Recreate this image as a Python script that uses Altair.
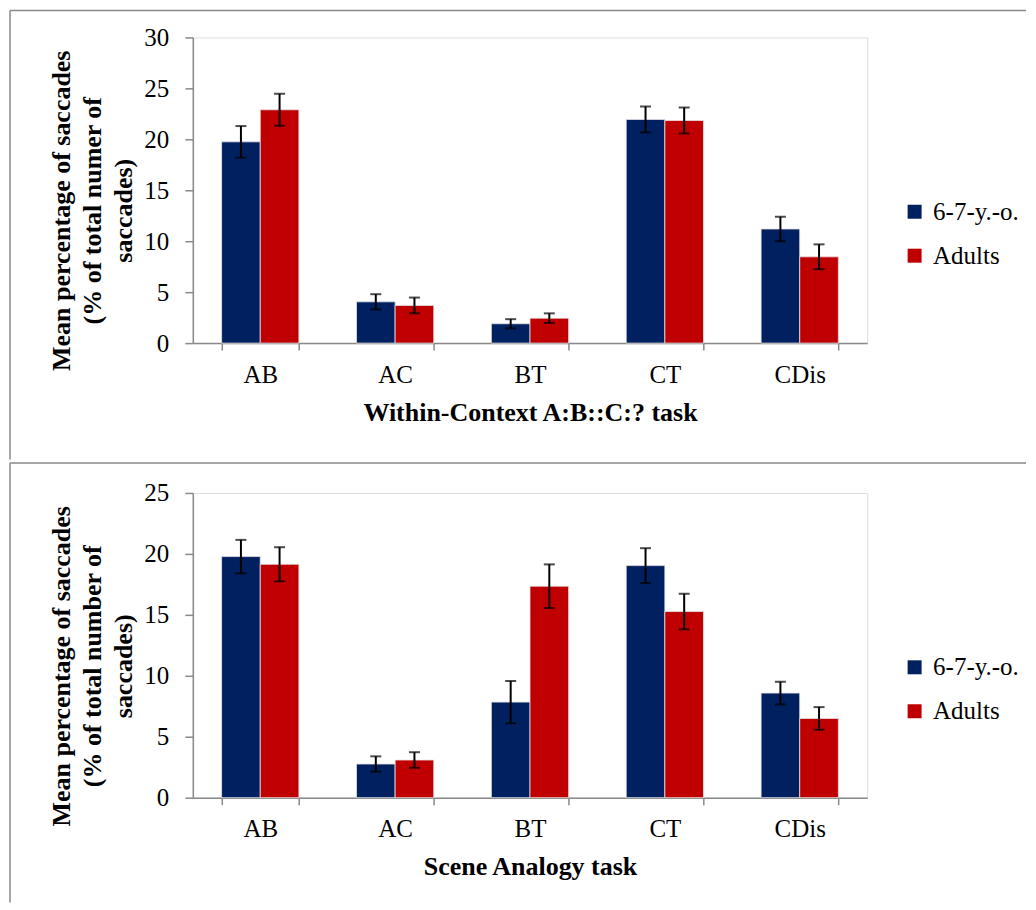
import altair as alt
import pandas as pd

categories = ["AB", "AC", "BT", "CT", "CDis"]
groups = ["6-7-y.-o.", "Adults"]

# Within-Context A:B::C:? task
within_child = [19.75, 4.05, 1.90, 21.95, 11.20]
within_child_err = [1.55, 0.75, 0.45, 1.27, 1.20]
within_adult = [22.90, 3.70, 2.45, 21.85, 8.47]
within_adult_err = [1.57, 0.77, 0.47, 1.27, 1.22]

# Scene Analogy task
scene_child = [19.78, 2.76, 7.84, 19.04, 8.58]
scene_child_err = [1.37, 0.63, 1.73, 1.43, 0.93]
scene_adult = [19.15, 3.09, 17.35, 15.27, 6.50]
scene_adult_err = [1.40, 0.64, 1.79, 1.46, 0.93]

NAVY = "#002060"
RED = "#C00000"
GRAY = "#898989"
FONT = "Liberation Serif"

W = 675


def make_df(child, child_err, adult, adult_err):
    rows = []
    for i, c in enumerate(categories):
        rows.append({"cat": c, "grp": groups[0], "val": child[i],
                     "lo": child[i] - child_err[i], "hi": child[i] + child_err[i]})
        rows.append({"cat": c, "grp": groups[1], "val": adult[i],
                     "lo": adult[i] - adult_err[i], "hi": adult[i] + adult_err[i]})
    return pd.DataFrame(rows)


def panel(df, ymax, height, xtitle, ytitle, frame_top, frame_bottom):
    xscale = alt.Scale(paddingInner=0.427, paddingOuter=0.2135)
    xenc = alt.X("cat:N", sort=categories, scale=xscale,
                 axis=alt.Axis(title=xtitle, labelAngle=0, tickBand="extent"))
    xoff = alt.XOffset("grp:N", sort=groups)
    yscale = alt.Scale(domain=[0, ymax], nice=False)
    bars = alt.Chart(df).mark_bar(stroke="#e4e4ea", strokeWidth=0.8).encode(
        x=xenc,
        xOffset=xoff,
        y=alt.Y("val:Q", scale=yscale,
                axis=alt.Axis(title=ytitle, values=list(range(0, ymax + 1, 5)),
                              titleY=173)),
        color=alt.Color("grp:N", sort=groups,
                        scale=alt.Scale(domain=groups, range=[NAVY, RED]),
                        legend=alt.Legend(title=None, orient="none", legendX=710,
                                          legendY=162)),
    )
    err = alt.Chart(df).mark_rule(color="black", strokeWidth=2).encode(
        x=alt.X("cat:N", sort=categories), xOffset=xoff,
        y=alt.Y("lo:Q", scale=yscale), y2="hi:Q")
    cap_hi = alt.Chart(df).mark_tick(color="black", size=11, thickness=2).encode(
        x=alt.X("cat:N", sort=categories), xOffset=xoff,
        y=alt.Y("hi:Q", scale=yscale))
    cap_lo = alt.Chart(df).mark_tick(color="black", size=11, thickness=2).encode(
        x=alt.X("cat:N", sort=categories), xOffset=xoff,
        y=alt.Y("lo:Q", scale=yscale))
    one = alt.Data(values=[{"a": 1}])
    frame_h = alt.Chart(one).mark_rule(color=GRAY, strokeWidth=1.5).encode(
        x=alt.value(-183), x2=alt.value(834), y=alt.value(frame_top))
    frame_v = alt.Chart(one).mark_rule(color=GRAY, strokeWidth=1.5).encode(
        x=alt.value(-183), y=alt.value(frame_top), y2=alt.value(frame_bottom))
    return alt.layer(bars, err, cap_hi, cap_lo, frame_h, frame_v).properties(
        width=W, height=height)


top = panel(make_df(within_child, within_child_err, within_adult, within_adult_err),
            30, 306, "Within-Context A:B::C:? task",
            ["Mean percentage of saccades", "(% of total numer of", "saccades)"],
            -27, 422.5)
bottom = panel(make_df(scene_child, scene_child_err, scene_adult, scene_adult_err),
               25, 305, "Scene Analogy task",
               ["Mean percentage of saccades", "(% of total number of", "saccades)"],
               -30, 410)

chart = alt.vconcat(top, bottom, spacing=0).resolve_scale(
    x="independent", y="independent", color="independent", xOffset="independent"
).resolve_legend(color="independent").properties(
    padding=0
).configure_view(stroke=None).configure(
    background="white"
).configure_axis(
    grid=False,
    labelFont=FONT, labelFontSize=25, labelColor="black",
    tickColor=GRAY, tickWidth=1.5,
    domainColor=GRAY, domainWidth=1.5,
    titleFont=FONT, titleFontSize=26, titleFontWeight="bold", titleColor="black",
    titleLineHeight=31,
).configure_axisX(
    labelPadding=12, tickSize=7, titlePadding=12,
).configure_axisY(
    labelPadding=16, tickSize=8, titlePadding=7,
).configure_legend(
    symbolType="square", symbolSize=196, symbolStrokeWidth=0,
    labelFont=FONT, labelFontSize=25, labelColor="black", labelOffset=6,
    rowPadding=18, padding=0,
)

chart.save("out.html", embed_options={"renderer": "svg", "actions": False})
